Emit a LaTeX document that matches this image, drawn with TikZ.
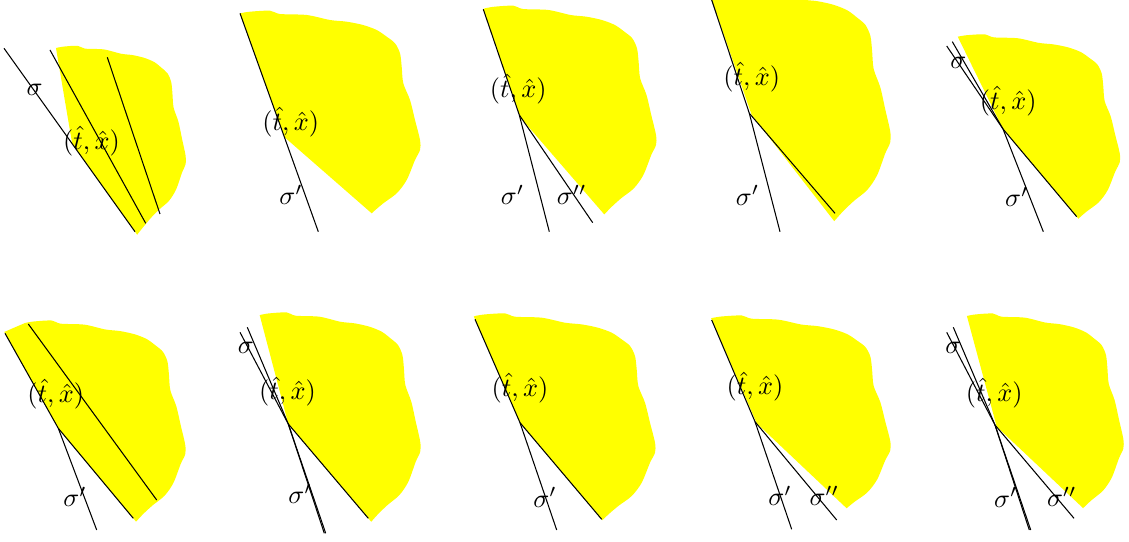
\documentclass[tikz,border=0pt]{standalone}
\usepackage{amsmath,amssymb}
\usepackage{xcolor}
\usepackage{tikz}

\definecolor{blobyellow}{RGB}{255,255,0}

\newcommand{\blobpath}{plot[smooth] coordinates {(0,0) (10,-1.6) (30,-2.6) (40,0.7) (66.7,1.7) (90,6.7) (106.7,8.4) (123,11.7) (136.7,16.7) (146.7,23.4) (155,30) (160,40) (161.7,53.4) (163.3,70) (170,86.7) (175,106.7) (180,126.7) (180,136.7) (175,146.7) (166.7,166.7) (156.7,180) (143.3,190) (131.7,200) (118,214) (105,228)} -- (-90,228) -- (-90,36) -- (-40,16) -- cycle}

\begin{document}
\begin{tikzpicture}[
    x=0.38pt, y=-0.38pt,
    blob/.style={fill=blobyellow},
    curve/.style={black, line width=0.4pt},
    lbl/.style={inner sep=0pt}
]
\useasboundingbox (0,0) rectangle (1129,542);

% top row
\begin{scope}
  \clip (47.5,-2) -- (72.2,143.8) -- (177.8,291.7) -- (330,291.7) -- (330,-2) -- cycle;
  \fill[blob, shift={(56,48)}, xscale=0.72, yscale=0.85] \blobpath;
\end{scope}
\coordinate (a1) at (4,48.3);
\coordinate (a1e) at (135,231.7);
\coordinate (b1) at (50,50);
\coordinate (b1e) at (145.7,223.3);
\coordinate (c1) at (107.3,57.3);
\coordinate (c1e) at (160,214);
\draw[curve] (a1) -- (a1e);
\draw[curve] (b1) -- (b1e);
\draw[curve] (c1) -- (c1e);
\node[lbl] (sig1) at (34.5,90) {$\sigma$};
\node[lbl] (pt1) at (91.5,141) {$(\hat t,\hat x)$};

\begin{scope}
  \clip (232.8,-6.7) -- (284.3,137) -- (417.5,253.3) -- (470,253.3) -- (470,-6.7) -- cycle;
  \fill[blob, shift={(240,13.3)}] \blobpath;
\end{scope}
\coordinate (a2) at (240,13.3);
\coordinate (a2e) at (318.3,231.7);
\draw[curve] (a2) -- (a2e);
\node[lbl] (pt2) at (290.8,122.5) {$(\hat t,\hat x)$};
\node[lbl] (sp2) at (291,195) {$\sigma'$};

\begin{scope}
  \clip (476.5,-10.7) -- (520,117) -- (637.9,253.3) -- (700,253.3) -- (700,-10.7) -- cycle;
  \fill[blob, shift={(485,8.3)}, xscale=0.95] \blobpath;
\end{scope}
\coordinate (a3) at (483.3,9.3);
\coordinate (k3) at (519.3,115);
\coordinate (sp3e) at (549.3,231.7);
\coordinate (spp3e) at (592.7,222.7);
\draw[curve] (a3) -- (k3) -- (sp3e);
\draw[curve] (k3) -- (spp3e);
\node[lbl] (pt3) at (518.3,89) {$(\hat t,\hat x)$};
\node[lbl] (sp3) at (512.5,195) {$\sigma'$};
\node[lbl] (spp3) at (571.7,195) {$\sigma''$};

\begin{scope}
  \clip (708.4,-10) -- (751.7,115) -- (864.4,260) -- (930,260) -- (930,-10) -- cycle;
  \fill[blob, shift={(712,-8)}, xscale=0.99, yscale=1.1] \blobpath;
\end{scope}
\coordinate (a4) at (711.7,0);
\coordinate (k4) at (749.3,113.3);
\coordinate (sp4e) at (780,231.7);
\coordinate (lo4e) at (835,213.3);
\draw[curve] (a4) -- (k4) -- (sp4e);
\draw[curve] (k4) -- (lo4e);
\node[lbl] (pt4) at (751.7,77.5) {$(\hat t,\hat x)$};
\node[lbl] (sp4) at (747.5,195.5) {$\sigma'$};

\begin{scope}
  \clip (943,6.7) -- (1003,129) -- (1110.3,256.7) -- (1140,256.7) -- (1140,6.7) -- cycle;
  \fill[blob, shift={(957.7,36.7)}, xscale=0.9, yscale=0.92] \blobpath;
\end{scope}
\coordinate (a5) at (946.7,46);
\coordinate (b5) at (952.3,41.7);
\coordinate (k5) at (1003,129);
\coordinate (sp5e) at (1043.3,231.7);
\coordinate (lo5e) at (1076.7,216.7);
\draw[curve] (a5) -- (k5) -- (sp5e);
\draw[curve] (b5) -- (k5) -- (lo5e);
\node[lbl] (sig5) at (958.3,62.5) {$\sigma$};
\node[lbl] (pt5) at (1008.3,100.8) {$(\hat t,\hat x)$};
\node[lbl] (sp5) at (1016.7,196.7) {$\sigma'$};

% bottom row
\begin{scope}
  \clip (-6.2,313.3) -- (58.3,428.3) -- (166.6,558.3) -- (240,558.3) -- (240,313.3) -- cycle;
  \fill[blob, shift={(25,323)}, xscale=0.89, yscale=0.96] \blobpath;
\end{scope}
\coordinate (a6) at (5,333.3);
\coordinate (k6) at (58.3,428.3);
\coordinate (sp6e) at (96.7,530);
\coordinate (lo6e) at (133.3,518.3);
\coordinate (b6) at (28.3,324);
\coordinate (b6e) at (156.7,500);
\draw[curve] (a6) -- (k6) -- (sp6e);
\draw[curve] (k6) -- (lo6e);
\draw[curve] (b6) -- (b6e);
\node[lbl] (pt6) at (55.8,394.2) {$(\hat t,\hat x)$};
\node[lbl] (sp6) at (75,497) {$\sigma'$};

\begin{scope}
  \clip (254.4,295) -- (288.3,424) -- (402.2,558.3) -- (470,558.3) -- (470,295) -- cycle;
  \fill[blob, shift={(260,315)}, xscale=0.89] \blobpath;
\end{scope}
\coordinate (a7) at (240,332.3);
\coordinate (b7) at (247.3,327.3);
\coordinate (k7) at (288.3,424);
\coordinate (a7e) at (324.3,533.3);
\coordinate (b7e) at (325.7,533.3);
\coordinate (lo7e) at (368.3,518.3);
\draw[curve] (a7) -- (k7) -- (a7e);
\draw[curve] (b7) -- (k7) -- (b7e);
\draw[curve] (k7) -- (lo7e);
\node[lbl] (sig7) at (245.8,347.5) {$\sigma$};
\node[lbl] (pt7) at (287.5,391.7) {$(\hat t,\hat x)$};
\node[lbl] (sp7) at (300,494) {$\sigma'$};

\begin{scope}
  \clip (466.3,299.3) -- (520,422.7) -- (635.5,559.3) -- (700,559.3) -- (700,299.3) -- cycle;
  \fill[blob, shift={(475,316)}] \blobpath;
\end{scope}
\coordinate (a8) at (475,319.3);
\coordinate (k8) at (520,422.7);
\coordinate (sp8e) at (556.7,530);
\coordinate (lo8e) at (601.7,519.3);
\draw[curve] (a8) -- (k8) -- (sp8e);
\draw[curve] (k8) -- (lo8e);
\node[lbl] (pt8) at (520,388.3) {$(\hat t,\hat x)$};
\node[lbl] (sp8) at (545,497.5) {$\sigma'$};

\begin{scope}
  \clip (703.2,300) -- (756.7,423.3) -- (889,548.3) -- (940,548.3) -- (940,300) -- cycle;
  \fill[blob, shift={(712,318)}, xscale=0.99, yscale=0.97] \blobpath;
\end{scope}
\coordinate (a9) at (711.7,320);
\coordinate (k9) at (755,421.7);
\coordinate (sp9e) at (791.7,529.3);
\coordinate (spp9e) at (836.7,520);
\draw[curve] (a9) -- (k9) -- (sp9e);
\draw[curve] (k9) -- (spp9e);
\node[lbl] (pt9) at (755,386.7) {$(\hat t,\hat x)$};
\node[lbl] (sp9) at (780,496) {$\sigma'$};
\node[lbl] (spp9) at (824.2,496) {$\sigma''$};

\begin{scope}
  \clip (961.5,296) -- (996.7,426.7) -- (1125.7,548.3) -- (1160,548.3) -- (1160,296) -- cycle;
  \fill[blob, shift={(966.7,316)}, xscale=0.87, yscale=0.97] \blobpath;
\end{scope}
\coordinate (a10) at (946.7,332.3);
\coordinate (b10) at (953.3,327.3);
\coordinate (k10) at (995,425);
\coordinate (a10e) at (1029.3,530);
\coordinate (b10e) at (1030.7,530);
\coordinate (spp10e) at (1074,518.3);
\draw[curve] (a10) -- (k10) -- (a10e);
\draw[curve] (b10) -- (k10) -- (b10e);
\draw[curve] (k10) -- (spp10e);
\node[lbl] (sig10) at (953.3,348.3) {$\sigma$};
\node[lbl] (pt10) at (994.2,393.3) {$(\hat t,\hat x)$};
\node[lbl] (sp10) at (1005.8,497.5) {$\sigma'$};
\node[lbl] (spp10) at (1061.7,496.7) {$\sigma''$};
\end{tikzpicture}
\end{document}
